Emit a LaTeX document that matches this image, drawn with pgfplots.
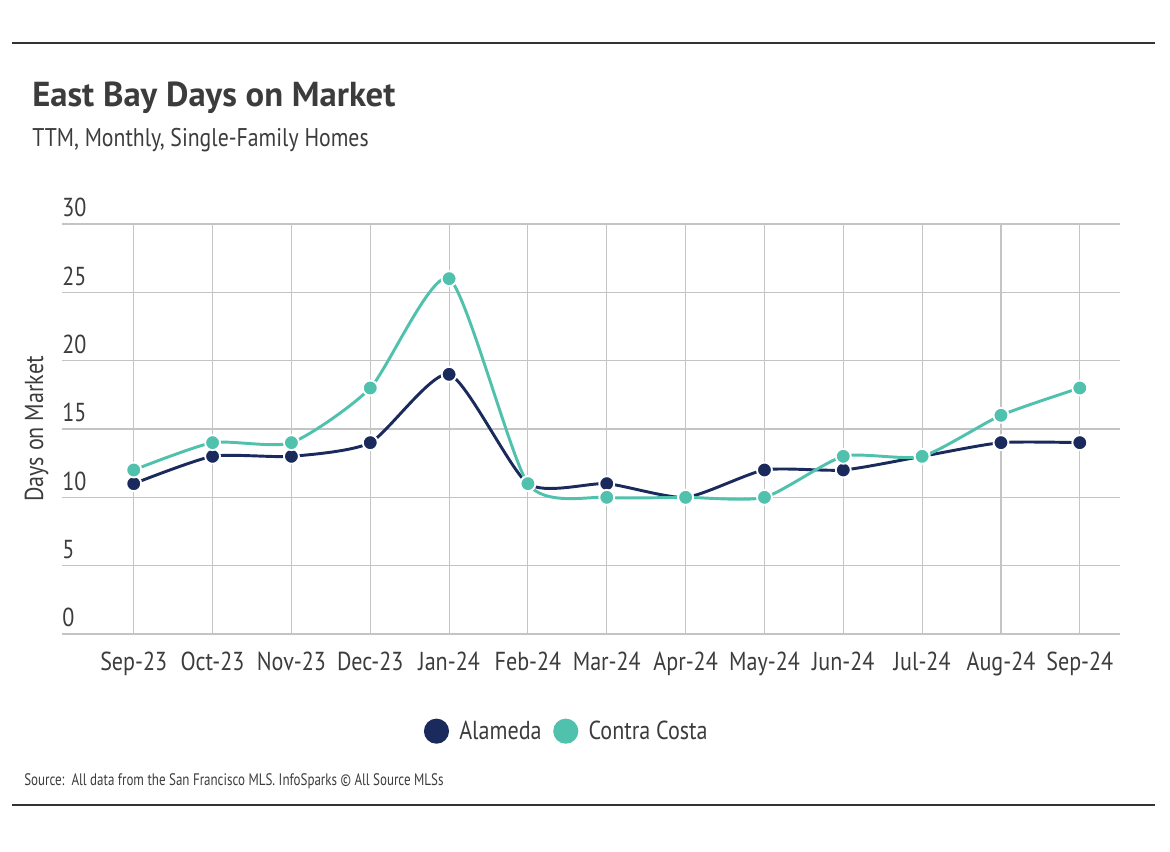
\documentclass[border=0pt]{standalone}
\usepackage{fontspec}
\setmainfont{PT Sans}
\newfontfamily\narrow[FakeStretch=0.85]{PT Sans}
\newfontfamily\srcfont[FakeStretch=0.78]{PT Sans}
\usepackage{pgfplots}
\pgfplotsset{compat=1.18}
\usepackage{xcolor}
\definecolor{alameda}{HTML}{1B2A5C}
\definecolor{contra}{HTML}{4FC1AD}
\definecolor{txt}{HTML}{3C3C3C}
\definecolor{gridc}{HTML}{C4C4C4}
\definecolor{rulec}{HTML}{333333}

\begin{document}
\begin{tikzpicture}
% canvas: 1 px = 0.75pt, 1170 x 852 px
\path[use as bounding box] (0pt,0pt) rectangle (877.5pt,639pt);
\draw[rulec, line width=1.4pt] (9pt,606.75pt) -- (866.25pt,606.75pt);
\draw[rulec, line width=1.4pt] (9pt,35.25pt) -- (866.25pt,35.25pt);
\node[anchor=west, text=txt, inner sep=0pt] at (24pt,566pt) {\fontsize{26}{28}\selectfont\bfseries East Bay Days on Market};
\node[anchor=west, text=txt, inner sep=0pt] at (24pt,534pt) {\fontsize{19.2}{21}\selectfont\narrow TTM, Monthly, Single-Family Homes};
\node[anchor=west, text=txt, inner sep=0pt] at (18pt,53pt) {\fontsize{12.5}{14}\selectfont\srcfont Source:\ \ All data from the San Francisco MLS. InfoSparks \textcopyright\ All Source MLSs};

\begin{axis}[
    at={(46.5pt,163.5pt)}, anchor=south west,
    scale only axis,
    width=793.5pt, height=307.5pt,
    xmin=-0.91, xmax=12.51,
    ymin=0, ymax=30,
    ytick={0,5,...,30},
    xtick={0,...,12},
    xticklabels={Sep-23,Oct-23,Nov-23,Dec-23,Jan-24,Feb-24,Mar-24,Apr-24,May-24,Jun-24,Jul-24,Aug-24,Sep-24},
    xmajorgrids, ymajorgrids,
    grid style={gridc, line width=0.8pt},
    axis line style={draw=none},
    major tick length=0pt,
    /pgf/number format/assume math mode=true,
    tick label style={text=txt, font=\fontsize{19.5}{21}\selectfont\narrow},
    xticklabel style={yshift=-10pt},
    yticklabel style={anchor=south west, inner sep=0pt, xshift=0pt, yshift=5pt},
    ylabel={Days on Market},
    ylabel style={at={(axis description cs:-0.024,0.5)}, anchor=center, text=txt, font=\fontsize{19.5}{21}\selectfont\narrow},
    legend columns=2,
    legend style={at={(axis description cs:0.477,-0.237)}, anchor=center, draw=none, fill=none,
        font=\fontsize{19.5}{21}\selectfont\narrow, text=txt,
        /tikz/every even column/.append style={column sep=6pt}},
    legend image code/.code={\fill[#1] (0pt,0pt) circle (8.3pt); \path (-9pt,0pt) (14pt,0pt);},
    clip=false,
]
\addplot[alameda, line width=2.2pt, smooth, tension=0.38, mark=*, mark size=5.6pt,
    mark options={fill=alameda, draw=white, line width=1.4pt}]
    coordinates {(0,11) (1,13) (2,13) (3,14) (4,19) (5,11) (6,11) (7,10) (8,12) (9,12) (10,13) (11,14) (12,14)};
\addlegendentry{Alameda}
\addplot[contra, line width=2.2pt, smooth, tension=0.38, mark=*, mark size=5.6pt,
    mark options={fill=contra, draw=white, line width=1.4pt}]
    coordinates {(0,12) (1,14) (2,14) (3,18) (4,26) (5,11) (6,10) (7,10) (8,10) (9,13) (10,13) (11,16) (12,18)};
\addlegendentry{Contra Costa}
\end{axis}
\end{tikzpicture}
\end{document}
